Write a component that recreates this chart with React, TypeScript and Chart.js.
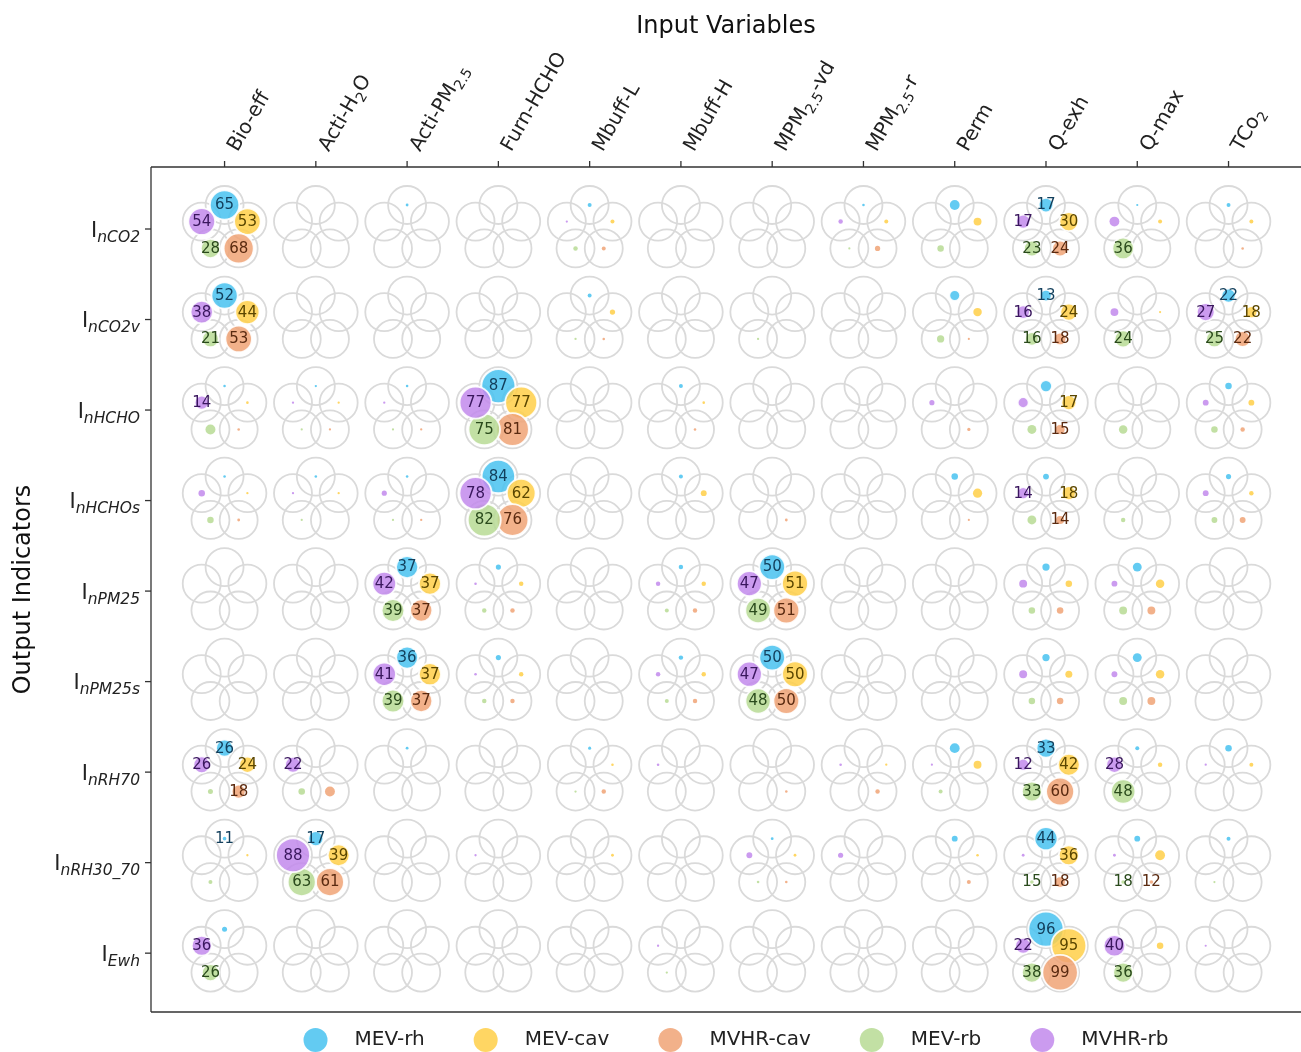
import React, { useEffect, useRef } from "react";
import { Chart, registerables } from "chart.js";
Chart.register(...registerables);

// ---------------- DATA ----------------
const INPUT_VARIABLES = [
  "Bio-eff", "Acti-H_{2}O", "Acti-PM_{2.5}", "Furn-HCHO", "Mbuff-L", "Mbuff-H",
  "MPM_{2.5}-vd", "MPM_{2.5}-r", "Perm", "Q-exh", "Q-max", "TCo_{2}",
];
const OUTPUT_INDICATORS = ["nCO2", "nCO2v", "nHCHO", "nHCHOs", "nPM25", "nPM25s", "nRH70", "nRH30_70", "Ewh"];
const SERIES_NAMES = ["MEV-rh", "MEV-cav", "MVHR-cav", "MEV-rb", "MVHR-rb"];

// circle sizes (area ~ value) per output row x input column
const MEV_RH_SIZE = [
  [65, 0, 0.6, 0, 1.2, 0, 0, 0.5, 7.3, 16, 0.3, 1.2],
  [52, 0, 0, 0, 1.2, 0, 0, 0, 8.8, 10, 0, 15],
  [0.5, 0.4, 0.5, 87, 0, 1.2, 0, 0, 0, 11, 0, 3.2],
  [0.5, 0.5, 0.5, 84, 0, 1.2, 0, 0, 3.2, 2.6, 0, 2],
  [0, 0, 37, 2, 0, 1.5, 50, 0, 0, 4, 6, 0],
  [0, 0, 36, 2, 0, 1.5, 50, 0, 0, 4, 6, 0],
  [22, 0, 0.6, 0, 0.7, 0, 0, 0, 7.3, 27, 1.2, 3.2],
  [1, 17, 0, 0, 0, 0, 0.6, 0, 2.6, 40, 2.6, 1.2],
  [1.9, 0, 0, 0, 0, 0, 0, 0, 0, 93, 0, 0],
];
const MEV_RH_LABEL = [
  [65, 0, 0, 0, 0, 0, 0, 0, 0, 17, 0, 0],
  [52, 0, 0, 0, 0, 0, 0, 0, 0, 13, 0, 22],
  [0, 0, 0, 87, 0, 0, 0, 0, 0, 0, 0, 0],
  [0, 0, 0, 84, 0, 0, 0, 0, 0, 0, 0, 0],
  [0, 0, 37, 0, 0, 0, 50, 0, 0, 0, 0, 0],
  [0, 0, 36, 0, 0, 0, 50, 0, 0, 0, 0, 0],
  [26, 0, 0, 0, 0, 0, 0, 0, 0, 33, 0, 0],
  [11, 17, 0, 0, 0, 0, 0, 0, 0, 44, 0, 0],
  [0, 0, 0, 0, 0, 0, 0, 0, 0, 96, 0, 0],
];

const MEV_CAV_SIZE = [
  [53, 0, 0, 0, 1.2, 0, 0, 1.2, 4.7, 27, 1.2, 1.2],
  [44, 0, 0, 0, 2.1, 0, 0, 0, 5.4, 22, 0.3, 11],
  [0.5, 0.4, 0, 77, 0, 0.5, 0, 0, 0, 17, 0, 2.6],
  [0.4, 0.4, 0, 62, 0, 2.6, 0, 0, 6.4, 15, 0, 1.5],
  [0, 0, 37, 1.5, 0, 1.5, 51, 0, 0, 3.2, 5.4, 0],
  [0, 0, 37, 1.5, 0, 1.5, 50, 0, 0, 3.7, 5.4, 0],
  [20, 0, 0, 0, 0.5, 0, 0, 0.4, 4.7, 36, 1.5, 1.2],
  [0.4, 36, 0, 0, 0.6, 0, 0.6, 0, 0.5, 30, 7.3, 0],
  [0, 0, 0, 0, 0, 0, 0, 0, 0, 92, 3.2, 0],
];
const MEV_CAV_LABEL = [
  [53, 0, 0, 0, 0, 0, 0, 0, 0, 30, 0, 0],
  [44, 0, 0, 0, 0, 0, 0, 0, 0, 24, 0, 18],
  [0, 0, 0, 77, 0, 0, 0, 0, 0, 17, 0, 0],
  [0, 0, 0, 62, 0, 0, 0, 0, 0, 18, 0, 0],
  [0, 0, 37, 0, 0, 0, 51, 0, 0, 0, 0, 0],
  [0, 0, 37, 0, 0, 0, 50, 0, 0, 0, 0, 0],
  [24, 0, 0, 0, 0, 0, 0, 0, 0, 42, 0, 0],
  [0, 39, 0, 0, 0, 0, 0, 0, 0, 36, 0, 0],
  [0, 0, 0, 0, 0, 0, 0, 0, 0, 95, 0, 0],
];

const MVHR_CAV_SIZE = [
  [68, 0, 0, 0, 1.2, 0, 0, 2.1, 0, 19, 0, 0.5],
  [53, 0, 0, 0, 0.5, 0, 0, 0, 0.3, 12, 0, 19],
  [0.5, 0.4, 0.4, 81, 0, 0.5, 0, 0, 0.8, 9, 0, 1.5],
  [0.6, 0, 0.4, 76, 0, 0, 0.6, 0, 0.3, 5, 0, 2.6],
  [0, 0, 37, 1.5, 0, 1.5, 51, 0, 0, 3.2, 4.7, 0],
  [0, 0, 37, 1.5, 0, 1.5, 50, 0, 0, 3.2, 4.7, 0],
  [15, 7.5, 0, 0, 1.5, 0, 0.5, 1.5, 0, 59, 0, 0],
  [0, 59, 0, 0, 0, 0, 0.5, 0, 1.2, 10, 1, 0],
  [0, 0, 0, 0, 0, 0, 0, 0, 0, 95, 0, 0],
];
const MVHR_CAV_LABEL = [
  [68, 0, 0, 0, 0, 0, 0, 0, 0, 24, 0, 0],
  [53, 0, 0, 0, 0, 0, 0, 0, 0, 18, 0, 22],
  [0, 0, 0, 81, 0, 0, 0, 0, 0, 15, 0, 0],
  [0, 0, 0, 76, 0, 0, 0, 0, 0, 14, 0, 0],
  [0, 0, 37, 0, 0, 0, 51, 0, 0, 0, 0, 0],
  [0, 0, 37, 0, 0, 0, 50, 0, 0, 0, 0, 0],
  [18, 0, 0, 0, 0, 0, 0, 0, 0, 60, 0, 0],
  [0, 61, 0, 0, 0, 0, 0, 0, 0, 18, 12, 0],
  [0, 0, 0, 0, 0, 0, 0, 0, 0, 99, 0, 0],
];

const MEV_RB_SIZE = [
  [28, 0, 0, 0, 1.5, 0, 0, 0.3, 3.2, 19, 35, 0],
  [21, 0, 0, 0, 0.4, 0, 0.4, 0, 4, 14, 22, 21],
  [7.5, 0.3, 0.3, 75, 0, 0, 0, 0, 0, 6, 5.4, 3.2],
  [3.2, 0.3, 0.3, 82, 0, 0, 0, 0, 0, 6, 1.5, 2.6],
  [0, 0, 39, 1.5, 0, 1.2, 49, 0, 0, 3.2, 4.7, 0],
  [0, 0, 39, 1.5, 0, 1.2, 48, 0, 0, 3.2, 4.7, 0],
  [1.9, 3.3, 0, 0, 0.4, 0, 0, 0, 1.2, 30, 45, 0],
  [1.2, 59, 0, 0, 0, 0, 0.5, 0, 0, 1, 1, 0.3],
  [22, 0, 0, 0, 0, 0.4, 0, 0, 0, 30, 30, 0],
];
const MEV_RB_LABEL = [
  [28, 0, 0, 0, 0, 0, 0, 0, 0, 23, 36, 0],
  [21, 0, 0, 0, 0, 0, 0, 0, 0, 16, 24, 25],
  [0, 0, 0, 75, 0, 0, 0, 0, 0, 0, 0, 0],
  [0, 0, 0, 82, 0, 0, 0, 0, 0, 0, 0, 0],
  [0, 0, 39, 0, 0, 0, 49, 0, 0, 0, 0, 0],
  [0, 0, 39, 0, 0, 0, 48, 0, 0, 0, 0, 0],
  [0, 0, 0, 0, 0, 0, 0, 0, 0, 33, 48, 0],
  [0, 63, 0, 0, 0, 0, 0, 0, 0, 15, 18, 0],
  [26, 0, 0, 0, 0, 0, 0, 0, 0, 38, 36, 0],
];

const MVHR_RB_SIZE = [
  [54, 0, 0, 0, 0.4, 0, 0, 1.5, 0, 15, 7.3, 0],
  [38, 0, 0, 0, 0, 0, 0, 0, 0, 14, 4.7, 24],
  [15, 0.4, 0.4, 77, 0, 0, 0, 0, 2, 9, 0, 2.6],
  [3.2, 0.4, 2, 78, 0, 0, 0, 0, 0, 11, 0, 2.6],
  [0, 0, 42, 0.5, 0, 1.5, 47, 0, 0, 4.7, 2.6, 0],
  [0, 0, 41, 0.5, 0, 1.5, 47, 0, 0, 4.7, 2.6, 0],
  [21, 19, 0, 0, 0, 0.5, 0, 0.5, 0.3, 11, 20, 0.4],
  [0, 87, 0, 0.4, 0, 0, 2.6, 2, 0, 0.6, 0.6, 0],
  [30, 0, 0, 0, 0, 0.4, 0, 0, 0, 19, 35, 0.3],
];
const MVHR_RB_LABEL = [
  [54, 0, 0, 0, 0, 0, 0, 0, 0, 17, 0, 0],
  [38, 0, 0, 0, 0, 0, 0, 0, 0, 16, 0, 27],
  [14, 0, 0, 77, 0, 0, 0, 0, 0, 0, 0, 0],
  [0, 0, 0, 78, 0, 0, 0, 0, 0, 14, 0, 0],
  [0, 0, 42, 0, 0, 0, 47, 0, 0, 0, 0, 0],
  [0, 0, 41, 0, 0, 0, 47, 0, 0, 0, 0, 0],
  [26, 22, 0, 0, 0, 0, 0, 0, 0, 12, 28, 0],
  [0, 88, 0, 0, 0, 0, 0, 0, 0, 0, 0, 0],
  [36, 0, 0, 0, 0, 0, 0, 0, 0, 22, 40, 0],
];

const SERIES_SIZES = [MEV_RH_SIZE, MEV_CAV_SIZE, MVHR_CAV_SIZE, MEV_RB_SIZE, MVHR_RB_SIZE];
const SERIES_LABELS = [MEV_RH_LABEL, MEV_CAV_LABEL, MVHR_CAV_LABEL, MEV_RB_LABEL, MVHR_RB_LABEL];

// ---------------- STYLE ----------------
const FONT = '"DejaVu Sans", sans-serif';
const SERIES_COLORS = [
  "rgba(72,194,240,0.85)",
  "rgba(255,207,72,0.85)",
  "rgba(240,163,118,0.85)",
  "rgba(183,219,148,0.85)",
  "rgba(194,138,236,0.85)",
];
const SERIES_TEXT = ["#123f5c", "#5a4600", "#5a2a10", "#2a4a1c", "#3a175e"];
const ANGLES = [90, 18, -54, -126, 162].map((d) => (d * Math.PI) / 180);
const OX = 0.263; // pentagon radius in x data units
const OY = 0.265; // pentagon radius in y data units
const SIZE_K = 1.82;

function parseSegments(s: string) {
  const out: { t: string; sub: boolean }[] = [];
  const re = /_\{([^}]*)\}/g;
  let last = 0;
  let m: RegExpExecArray | null;
  while ((m = re.exec(s))) {
    if (m.index > last) out.push({ t: s.slice(last, m.index), sub: false });
    out.push({ t: m[1], sub: true });
    last = m.index + m[0].length;
  }
  if (last < s.length) out.push({ t: s.slice(last), sub: false });
  return out;
}

const decorPlugin = {
  id: "decor",
  afterDatasetsDraw(chart: any) {
    const ctx = chart.ctx;
    ctx.save();
    ctx.font = `15px ${FONT}`;
    ctx.textAlign = "center";
    ctx.textBaseline = "middle";
    for (let k = 0; k < 5; k++) {
      const di = k + 1;
      const meta = chart.getDatasetMeta(di);
      const data = chart.data.datasets[di].data as any[];
      meta.data.forEach((el: any, j: number) => {
        const lab = data[j].label;
        if (lab > 0) {
          ctx.fillStyle = SERIES_TEXT[k];
          ctx.fillText(String(lab), el.x, el.y + 0.5);
        }
      });
    }
    ctx.restore();
  },
  afterDraw(chart: any) {
    const ctx = chart.ctx;
    const { left, top, right, bottom } = chart.chartArea;
    const xs = chart.scales.x;
    const ys = chart.scales.y;
    ctx.save();
    // spines
    ctx.strokeStyle = "#333";
    ctx.lineWidth = 1.3;
    ctx.beginPath();
    ctx.moveTo(left, top);
    ctx.lineTo(right + 5, top);
    ctx.moveTo(left, top);
    ctx.lineTo(left, bottom);
    ctx.moveTo(left, bottom);
    ctx.lineTo(right + 5, bottom);
    ctx.stroke();

    // x ticks (top) + labels
    const theta = (60 * Math.PI) / 180;
    const mainPx = 20;
    const subPx = 14;
    INPUT_VARIABLES.forEach((lab, i) => {
      const x = xs.getPixelForValue(i);
      ctx.beginPath();
      ctx.moveTo(x, top);
      ctx.lineTo(x, top - 6);
      ctx.stroke();
      const segs = parseSegments(lab);
      const a = 15;
      const d = 4.8;
      const bx = x + a * Math.sin(theta);
      const by = top - 12 - d * Math.cos(theta);
      ctx.save();
      ctx.translate(bx, by);
      ctx.rotate(-theta);
      ctx.fillStyle = "#222";
      ctx.textAlign = "left";
      ctx.textBaseline = "alphabetic";
      let cx = 0;
      segs.forEach((sg) => {
        ctx.font = `${sg.sub ? subPx : mainPx}px ${FONT}`;
        ctx.fillText(sg.t, cx, sg.sub ? 5 : 0);
        cx += ctx.measureText(sg.t).width;
      });
      ctx.restore();
    });

    // y ticks (left) + labels
    OUTPUT_INDICATORS.forEach((lab, r) => {
      const y = ys.getPixelForValue(r);
      ctx.beginPath();
      ctx.moveTo(left, y);
      ctx.lineTo(left - 6, y);
      ctx.stroke();
      ctx.fillStyle = "#222";
      ctx.textBaseline = "alphabetic";
      ctx.textAlign = "left";
      ctx.font = `21px ${FONT}`;
      const wI = ctx.measureText("I").width;
      ctx.font = `italic 15.5px ${FONT}`;
      const wS = ctx.measureText(lab).width;
      const x0 = left - 11 - wI - wS;
      ctx.font = `21px ${FONT}`;
      ctx.fillText("I", x0, y + 7.5);
      ctx.font = `italic 15.5px ${FONT}`;
      ctx.fillText(lab, x0 + wI, y + 12.5);
    });

    // axis titles
    ctx.fillStyle = "#111";
    ctx.font = `24px ${FONT}`;
    ctx.textAlign = "center";
    ctx.textBaseline = "alphabetic";
    ctx.fillText("Input Variables", (left + right) / 2, 33);
    ctx.save();
    ctx.translate(30, (top + bottom) / 2);
    ctx.rotate(-Math.PI / 2);
    ctx.fillText("Output Indicators", 0, 0);
    ctx.restore();

    // legend
    ctx.font = `20px ${FONT}`;
    const widths = SERIES_NAMES.map((n) => ctx.measureText(n).width);
    const total = widths.reduce((s, w) => s + w + 51, 0) + 4 * 49;
    let cur = 736 - total / 2;
    const ly = 1040;
    SERIES_NAMES.forEach((n, k) => {
      ctx.beginPath();
      ctx.fillStyle = SERIES_COLORS[k];
      ctx.arc(cur + 12, ly, 12, 0, Math.PI * 2);
      ctx.fill();
      ctx.fillStyle = "#222";
      ctx.textAlign = "left";
      ctx.textBaseline = "middle";
      ctx.fillText(n, cur + 51, ly);
      cur += 51 + widths[k] + 49;
    });
    ctx.restore();
  },
};

export default function App() {
  const ref = useRef<HTMLCanvasElement>(null);
  useEffect(() => {
    document.body.style.margin = "0";
    document.body.style.overflow = "hidden";
    const ringData: any[] = [];
    for (let r = 0; r < OUTPUT_INDICATORS.length; r++) {
      for (let c = 0; c < INPUT_VARIABLES.length; c++) {
        ANGLES.forEach((a) => ringData.push({ x: c + OX * Math.cos(a), y: r - OY * Math.sin(a) }));
      }
    }
    const seriesSets = SERIES_NAMES.map((name, k) => {
      const data: any[] = [];
      const a = ANGLES[k];
      for (let r = 0; r < OUTPUT_INDICATORS.length; r++) {
        for (let c = 0; c < INPUT_VARIABLES.length; c++) {
          const s = SERIES_SIZES[k][r][c];
          const lab = SERIES_LABELS[k][r][c];
          if (s > 0 || lab > 0) {
            data.push({ x: c + OX * Math.cos(a), y: r - OY * Math.sin(a), s, label: lab });
          }
        }
      }
      return {
        label: name,
        data,
        order: 5 - k,
        clip: false as any,
        showLine: false,
        pointStyle: "circle" as const,
        backgroundColor: SERIES_COLORS[k],
        borderColor: "rgba(255,255,255,0.9)",
        borderWidth: 1.5,
        pointRadius: (ctx: any) => {
          const s = ctx.raw ? ctx.raw.s : 0;
          return s > 0 ? Math.max(1.1, SIZE_K * Math.sqrt(s)) : 0;
        },
        pointBorderWidth: (ctx: any) => {
          const s = ctx.raw ? ctx.raw.s : 0;
          return s > 8 ? 1.8 : 0;
        },
      };
    });
    const chart = new Chart(ref.current as HTMLCanvasElement, {
      type: "scatter",
      data: {
        datasets: [
          {
            label: "rings",
            data: ringData,
            order: 10,
            clip: false as any,
            showLine: false,
            pointStyle: "circle",
            pointRadius: 19,
            backgroundColor: "rgba(0,0,0,0)",
            borderColor: "#dadada",
            pointBorderWidth: 1.8,
          } as any,
          ...(seriesSets as any[]),
        ],
      },
      options: {
        responsive: false,
        animation: false,
        events: [],
        layout: { autoPadding: false, padding: { left: 151, top: 167, right: 0, bottom: 40 } } as any,
        scales: {
          x: { type: "linear", min: -0.806, max: 11.794, display: false },
          y: { type: "linear", min: -0.685, max: 8.65, reverse: true, display: false },
        },
        plugins: { legend: { display: false }, tooltip: { enabled: false } },
      },
      plugins: [decorPlugin],
    });
    return () => chart.destroy();
  }, []);
  return (
    <div style={{ width: 1301, height: 1052, overflow: "hidden" }}>
      <canvas ref={ref} width={1301} height={1052} style={{ display: "block" }} />
    </div>
  );
}
